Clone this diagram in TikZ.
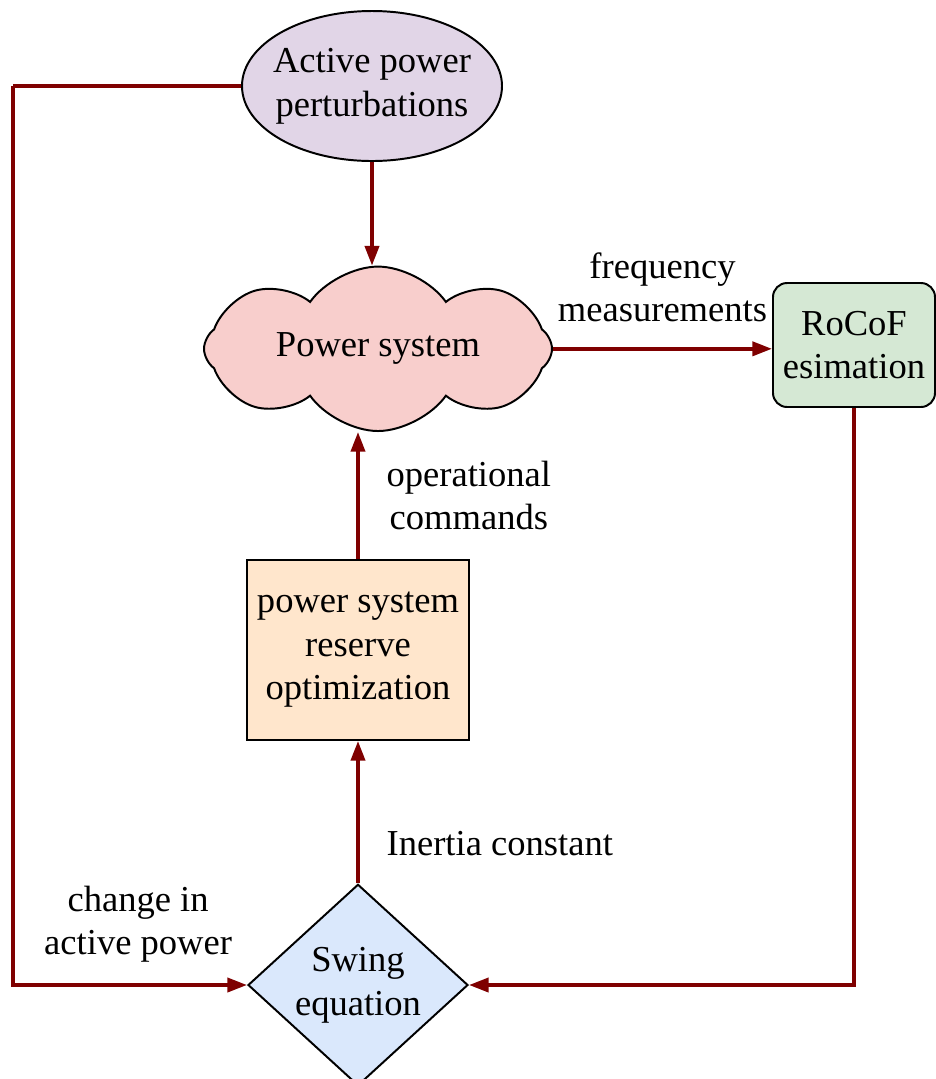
\documentclass[tikz,border=0pt]{standalone}
\usepackage{fontspec}
\setmainfont{Liberation Serif}
\usepackage{tikz}
\usetikzlibrary{arrows.meta,positioning,shapes.geometric,shapes.symbols,calc}
\definecolor{linkred}{HTML}{7F0000}
\definecolor{pertfill}{HTML}{E1D5E7}
\definecolor{psfill}{HTML}{F8CECC}
\definecolor{rocoffill}{HTML}{D5E8D4}
\definecolor{optfill}{HTML}{FFE6CC}
\definecolor{swingfill}{HTML}{DAE8FC}

\begin{document}
\begin{tikzpicture}[
  font=\fontsize{26}{31}\selectfont,
  blk/.style={draw=black,line width=1.4pt,align=center,inner sep=2pt},
  link/.style={draw=linkred,line width=2.6pt,-{Triangle[length=14pt,width=10pt]}},
  wire/.style={draw=linkred,line width=2.6pt},
  lbl/.style={align=center,inner sep=2pt}]
  \useasboundingbox (0,0) rectangle (23.4,-26.975);
  % blocks
  \node[blk,ellipse,fill=pertfill,inner xsep=-5pt,inner ysep=0pt,minimum width=6.5cm,minimum height=3.75cm] (pert) at (9.3,-2.15) {Active power\\perturbations};
  \node[blk,cloud,cloud puffs=8,cloud puff arc=110,aspect=2.6,fill=psfill,inner ysep=0pt,
        minimum width=8.7cm,minimum height=3.2cm] (ps) at (9.45,-8.72) {Power system};
  \node[blk,rounded corners=10pt,fill=rocoffill,minimum width=4.05cm,minimum height=3.1cm] (rocof) at (21.35,-8.625) {RoCoF\\esimation};
  \node[blk,fill=optfill,minimum width=5.55cm,minimum height=4.5cm] (opt) at (8.95,-16.25) {power system\\reserve\\optimization};
  \node[blk,diamond,fill=swingfill,inner sep=0pt,minimum width=5.5cm,minimum height=4.7cm] (swing) at (8.95,-24.625) {Swing\\equation};
  \coordinate (rail) at (0.33,-2.15);
  % connectors
  \draw[link] (pert.south) -- (pert.south |- ps.north);
  \draw[link] (ps.east) -- node[lbl,above=0.55cm] {frequency\\measurements} (rocof.west |- ps.east);
  \draw[link] (opt.north) -- node[lbl,right=0.6cm] {operational\\commands} (opt.north |- ps.south);
  \draw[link] (swing.north) -- node[lbl,right=0.6cm,pos=0.28] {Inertia constant} (opt.south);
  \draw[link] (rocof.south) |- (swing.east);
  \draw[wire] (pert.west) -- (rail);
  \draw[link] (rail) |- node[lbl,above=0.45cm,pos=0.75,xshift=0.2cm] {change in\\active power} (swing.west);
\end{tikzpicture}
\end{document}
